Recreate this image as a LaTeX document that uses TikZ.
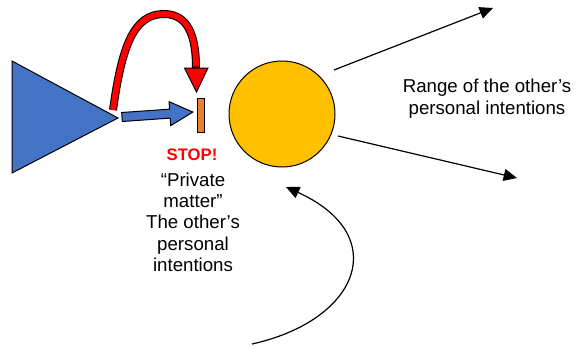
\documentclass[tikz,border=0pt]{standalone}
\usepackage{fontspec}
\setmainfont{Liberation Sans}
\usetikzlibrary{arrows.meta}
\definecolor{triblue}{HTML}{4472C4}
\definecolor{ballgold}{HTML}{FFC000}
\definecolor{barorange}{HTML}{ED7D31}
\definecolor{stopred}{HTML}{FF0000}
\tikzset{
  outline/.style={draw=black, line width=0.75pt},
  thinarrow/.style={line width=0.9pt, -{Triangle[length=10pt,width=9pt]}},
  label/.style={font=\fontsize{14}{16.5}\selectfont, align=center, inner sep=0pt},
}
\begin{document}
\begin{tikzpicture}[x=0.75pt, y=-0.75pt]
  \useasboundingbox (0,0) rectangle (577,346);

  % blue triangle
  \draw[outline, fill=triblue] (12,61) -- (118,118) -- (12,173) -- cycle;

  % orange stop bar and golden ball
  \node[outline, fill=barorange, minimum width=5.25pt, minimum height=25.5pt, inner sep=0pt] (bar) at (200.5,115) {};
  \node[outline, fill=ballgold, circle, minimum size=79.5pt, inner sep=0pt] (ball) at (282,114) {};

  % blue block arrow from the triangle towards the bar
  \begin{scope}[shift={(122,117)}, rotate=4]
    \draw[outline, fill=triblue] (0,-4.5) -- (48,-4.5) -- (48,-12) -- (71,0) -- (48,12) -- (48,4.5) -- (0,4.5) -- cycle;
  \end{scope}

  % red bent arrow over the top
  \coordinate (redtail) at (113,110);
  \coordinate (redtop) at (164,14);
  \coordinate (redbase) at (196,68);
  \draw[black, line width=6pt] (redtail) .. controls (122,45) and (134,14) .. (redtop)
        .. controls (190,14) and (196,40) .. (redbase);
  \draw[stopred, line width=4.4pt] (redtail) .. controls (122,45) and (134,14) .. (redtop)
        .. controls (190,14) and (196,40) .. ([yshift=1]redbase);
  \draw[outline, fill=stopred] (184.5,68) -- (208,68) -- (196.5,92) -- cycle;

  % range arrows leaving the ball
  \coordinate (upstart) at (334,70);
  \coordinate (upend) at (493,8);
  \coordinate (downstart) at (338,136);
  \coordinate (downend) at (517,178);
  \draw[thinarrow] (upstart) -- (upend);
  \draw[thinarrow] (downstart) -- (downend);

  % curved arrow rising towards the ball
  \coordinate (curvestart) at (252,344);
  \coordinate (curveend) at (286,187);
  \draw[thinarrow] (curvestart) .. controls (360,320) and (392,235) .. (curveend);

  % labels
  \node[label] (range) at (487,99) {Range of the other’s\\personal intentions};
  \node[font=\fontsize{12.5}{14}\selectfont\bfseries, text=stopred, anchor=base, inner sep=0pt] (stop) at (192,160) {STOP!};
  \node[label, font=\fontsize{14}{16}\selectfont] (private) at (193,222) {“Private\\matter”\\The other’s\\personal\\intentions};
\end{tikzpicture}
\end{document}
